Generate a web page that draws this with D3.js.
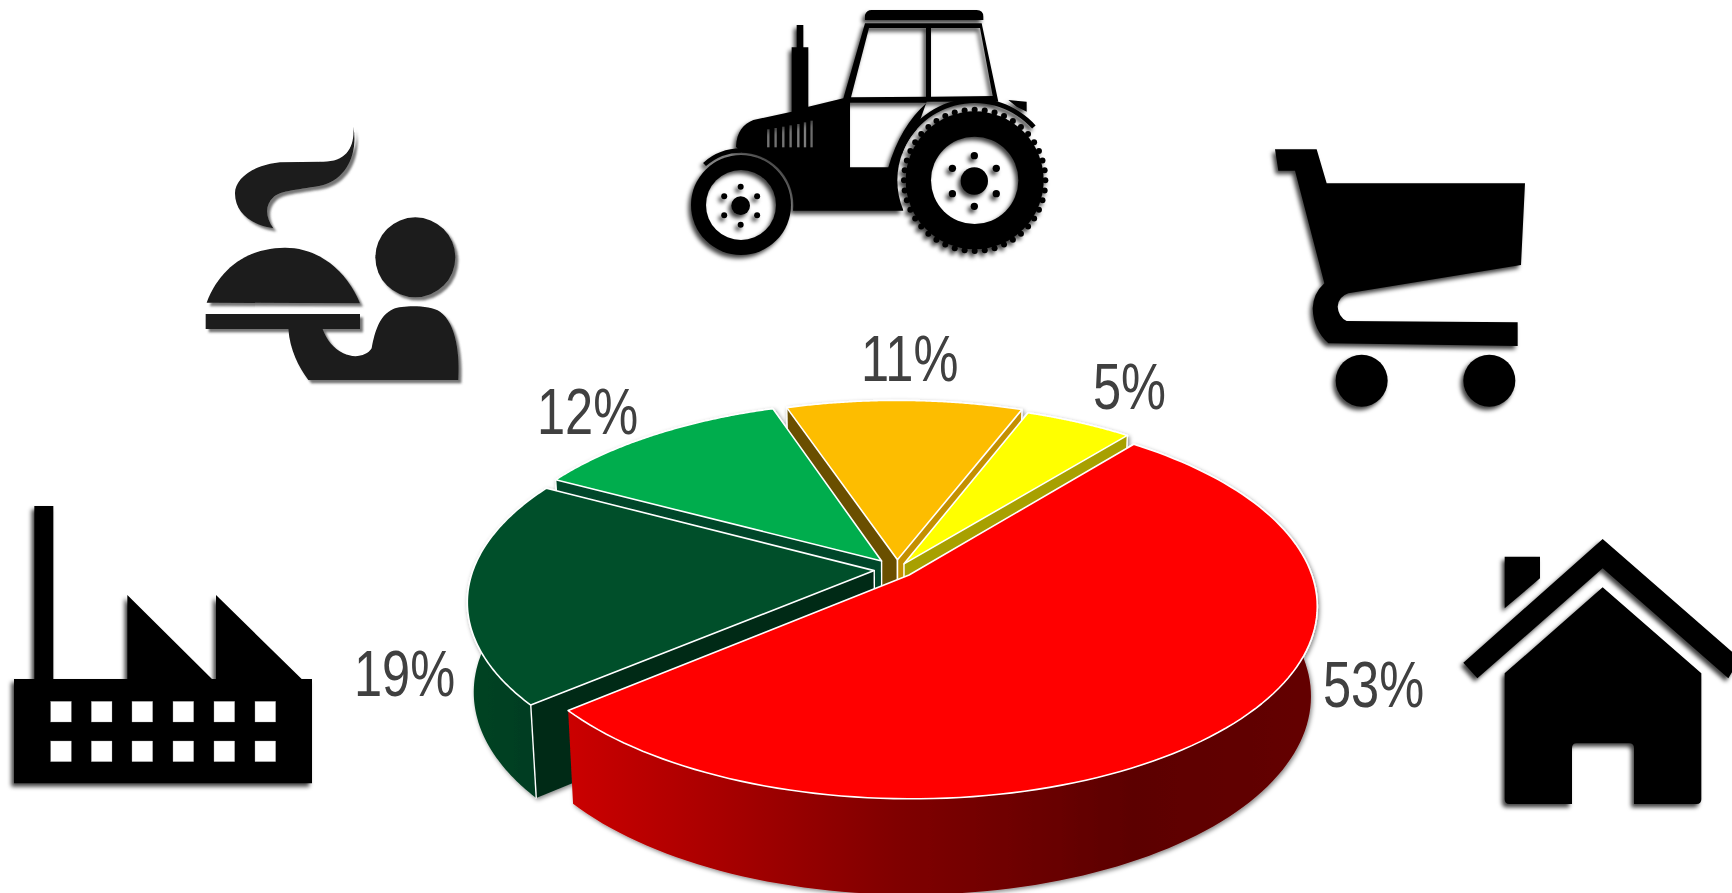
<!DOCTYPE html>
<html>
<head>
<meta charset="utf-8">
<script src="https://cdn.jsdelivr.net/npm/d3@7"></script>
<style>
  html, body { margin: 0; background: #fff; }
  svg { display: block; }
  text { font-family: "Liberation Sans", Arial, sans-serif; }
</style>
</head>
<body>
<script>
// Share of each sector, clockwise from the first cut.
const sectors = ["Households", "Industry", "Food service", "Agriculture", "Retail"];
const shares = [53, 19, 12, 11, 5];

// Slice styling, one entry per sector.
const topColors = ["#ff0000", "#00502b", "#00ad4d", "#fdbd00", "#ffff00"];
const wallColors = ["url(#redWall)", "url(#greenWall)", "#00572a", "#6b4f00", "#a8a000"];
const startFaces = [null, "#002a18", "#00472a", "#6b4f00", null];
const endFaces = [null, null, null, "#c49000", "#a8a000"];
const pull = [0.042, 0.057, 0.06, 0.053, 0.035];
const paintOrder = [3, 4, 2, 1, 0];
const labelAnchors = [[1323, 707], [354, 696], [537, 434], [861, 381], [1093, 409]];

const width = 1732, height = 893;
const svg = d3.select("body").append("svg").attr("width", width).attr("height", height);
const defs = svg.append("defs");

function shadow(id, dx, dy, blur, color, opacity) {
  const f = defs.append("filter").attr("id", id)
    .attr("x", "-15%").attr("y", "-15%").attr("width", "130%").attr("height", "130%");
  f.append("feDropShadow").attr("dx", dx).attr("dy", dy).attr("stdDeviation", blur)
    .attr("flood-color", color).attr("flood-opacity", opacity);
}
// Icon shadows are given in the 3x local grid of the pictograms.
shadow("softLeft", -8, 10, 7, "#000", 0.75);
shadow("hardRight", 9, 10, 3, "#555", 0.8);
shadow("pieHalo", 1.5, 2, 2, "#000", 0.45);

function wallGradient(id, stops) {
  const g = defs.append("linearGradient").attr("id", id)
    .attr("gradientUnits", "userSpaceOnUse")
    .attr("x1", 470).attr("x2", 1320).attr("y1", 0).attr("y2", 0);
  stops.forEach(([o, c]) => g.append("stop").attr("offset", o).attr("stop-color", c));
}
wallGradient("redWall", [[0.11, "#cc0000"], [0.5, "#800000"], [0.78, "#5c0000"], [1, "#640000"]]);
wallGradient("greenWall", [[0, "#004424"], [0.08, "#003c20"], [1, "#003c20"]]);

// Perspective projection of the pie's unit disc onto the page.
const origin = { x: 897, y: 569.5 }, spanX = 401, spanY = 187, tilt = 0.156;
const depth = { shrinkX: 0.985, shrinkY: 1.03, drop: 90 };
const project = (u, v) => {
  const w = 1 + tilt * v;
  return [origin.x + spanX * u / w, origin.y - spanY * v / w];
};
const sink = ([x, y]) => [
  origin.x + (x - origin.x) * depth.shrinkX,
  605 + (y - 605) * depth.shrinkY + depth.drop
];
const polar = (a, r, c) => [c[0] + r * Math.sin(a), c[1] + r * Math.cos(a)];
const line = d3.line();

const firstCut = 39;
const slices = d3.pie().sort(null)
  .startAngle(firstCut * Math.PI / 180)
  .endAngle((firstCut + 360) * Math.PI / 180)(shares);

const pieLayer = svg.append("g").attr("filter", "url(#pieHalo)");

paintOrder.forEach(i => {
  const s = slices[i];
  const mid = (s.startAngle + s.endAngle) / 2;
  const hub = [pull[i] * Math.sin(mid), pull[i] * Math.cos(mid)];
  const steps = d3.range(0, 121).map(k => s.startAngle + (s.endAngle - s.startAngle) * k / 120);
  const rim = steps.map(a => project(...polar(a, 1, hub)));
  const apex = project(...hub);
  const g = pieLayer.append("g").attr("class", "slice").attr("data-sector", sectors[i]);

  const wall = rim.concat(rim.map(sink).reverse());
  g.append("path").attr("d", line(wall) + "Z").attr("fill", wallColors[i]);

  const face = (edge, color) => {
    if (!color) return;
    const quad = [apex, edge, sink(edge), sink(apex)];
    g.append("path").attr("d", line(quad) + "Z").attr("fill", color);
  };
  face(rim[0], startFaces[i]);
  face(rim[rim.length - 1], endFaces[i]);

  const corner = (edge, color) => {
    if (!color) return;
    g.append("path").attr("d", line([edge, sink(edge)])).attr("stroke", "#fff")
      .attr("stroke-width", 1.4).attr("fill", "none");
    g.append("path").attr("d", line([apex, sink(apex)])).attr("stroke", "#fff")
      .attr("stroke-width", 1.4).attr("fill", "none");
  };
  corner(rim[0], startFaces[i]);
  corner(rim[rim.length - 1], endFaces[i]);

  g.append("path").attr("d", line([apex].concat(rim)) + "Z")
    .attr("fill", topColors[i]).attr("stroke", "#fff")
    .attr("stroke-width", 1.6).attr("stroke-linejoin", "round");
});

// Percentage labels, set condensed.
svg.append("g").selectAll("text").data(shares).join("text")
  .attr("transform", (d, i) => `translate(${labelAnchors[i][0]},${labelAnchors[i][1]}) scale(0.79,1)`)
  .attr("font-size", 64).attr("fill", "#404040")
  .text(d => `${d}%`);

// Pictograms, drawn in a 3x local grid and placed on the page.
function icon(x, y, filter, color) {
  return svg.append("g").attr("transform", `translate(${x},${y}) scale(${1 / 3})`)
    .attr("filter", filter).attr("fill", color);
}

// House
icon(1440, 520, "url(#softLeft)", "#000").append("path").attr("d",
  "M488,57 L900,416 L865,475 L488,145 L112,475 L70,428 Z " +
  "M194,110 H300 V175 L194,265 Z " +
  "M488,202 L784,460 V838 Q784,852 770,852 H582 V685 Q582,670 567,670 H410 Q396,670 396,685 V852 H208 Q194,852 194,838 V460 Z");

// Factory
const factory = icon(0, 490, "url(#softLeft)", "#000");
const windowCols = [152, 274, 396, 519, 642, 765], windowRows = [634, 753];
factory.append("path").attr("d",
  "M103,48 H160 V567 H382 V315 L636,567 H648 V315 L905,567 H936 V880 H42 V567 H103 Z");
windowRows.forEach(r => windowCols.forEach(c => {
  factory.append("rect").attr("x", c).attr("y", r).attr("width", 62).attr("height", 62)
    .attr("fill", "#fff").attr("stroke", "#999").attr("stroke-width", 1);
}));

// Shopping cart
const cart = icon(1260, 130, "url(#softLeft)", "#000");
cart.append("path").attr("d",
  "M45,58 H170 L200,160 H795 L783,405 L265,490 Q235,500 233,530 Q235,560 260,573 L773,577 V648 L205,640 Q160,600 158,535 Q160,490 193,460 L105,122 H55 Z");
[305, 688].forEach(cx => cart.append("circle").attr("cx", cx).attr("cy", 752).attr("r", 78));

// Waiter with a covered dish
const waiter = icon(190, 110, "url(#hardRight)", "#1a1a1a");
waiter.append("path").attr("d",
  "M490,50 C495,110 470,155 400,155 L270,157 C190,165 135,205 135,250 C135,310 185,345 250,355 C225,320 225,285 250,262 C270,240 330,240 400,225 C470,205 505,130 490,50 Z");
waiter.append("circle").attr("cx", 676).attr("cy", 442).attr("r", 120);
waiter.append("path").attr("d", "M50,578 C90,470 180,413 285,413 C385,413 470,480 510,580 Z");
waiter.append("rect").attr("x", 47).attr("y", 612).attr("width", 463).attr("height", 45);
waiter.append("path").attr("d",
  "M295,657 C300,720 325,770 355,810 H805 C810,740 800,640 750,605 C720,585 640,585 610,597 C570,615 555,660 545,715 C530,740 490,745 460,730 C430,715 410,690 398,657 Z");

// Tractor: a silhouette mask with see-through windows and hubs.
const tractorMask = defs.append("mask").attr("id", "tractorCut").attr("maskUnits", "userSpaceOnUse")
  .attr("x", -50).attr("y", -50).attr("width", 1400).attr("height", 950);
const maskWhite = "#fff", maskBlack = "#000";
const rearWheel = { x: 914, y: 541 }, frontWheel = { x: 213, y: 615 };
const ring = d3.arc();
const deg = d => d * Math.PI / 180;

tractorMask.append("path").attr("fill", maskWhite).attr("d",
  "M198,440 C200,395 220,372 250,360 L365,335 V142 H380 V75 H400 V142 H415 V320 L520,295 L585,70 H935 L985,305 L770,305 L700,500 V632 H370 Z " +
  "M585,60 V45 Q590,30 605,30 H920 Q940,30 940,50 V60 Z " +
  "M1015,300 L1070,305 V335 L1040,320 Z");
tractorMask.append("path").attr("fill", maskBlack).attr("d",
  "M597,84 H768 V290 L543,292 Z M783,84 H930 L968,288 L783,290 Z " +
  "M540,308 H770 Q690,380 655,502 H540 Z");
[[295, 388], [317, 384], [340, 380], [362, 376], [385, 372], [405, 367], [425, 362]].forEach(([x, top]) => {
  tractorMask.append("rect").attr("fill", maskBlack).attr("x", x - 3.5).attr("y", top)
    .attr("width", 7).attr("height", 442 - top);
});

tractorMask.append("circle").attr("cx", rearWheel.x).attr("cy", rearWheel.y).attr("r", 232).attr("fill", maskBlack);
tractorMask.append("path").attr("fill", maskWhite)
  .attr("transform", `translate(${rearWheel.x},${rearWheel.y})`)
  .attr("d", ring({ innerRadius: 232, outerRadius: 246, startAngle: deg(-70), endAngle: deg(48) }));
tractorMask.append("circle").attr("cx", rearWheel.x).attr("cy", rearWheel.y).attr("r", 207).attr("fill", maskWhite);
d3.range(44).forEach(k => {
  const a = 2 * Math.PI * k / 44;
  tractorMask.append("circle").attr("fill", maskWhite).attr("r", 9)
    .attr("cx", rearWheel.x + 212 * Math.sin(a)).attr("cy", rearWheel.y + 212 * Math.cos(a));
});
tractorMask.append("circle").attr("cx", rearWheel.x).attr("cy", rearWheel.y).attr("r", 131).attr("fill", maskBlack);

tractorMask.append("circle").attr("cx", frontWheel.x).attr("cy", frontWheel.y).attr("r", 157).attr("fill", maskBlack);
tractorMask.append("path").attr("fill", maskWhite)
  .attr("transform", `translate(${frontWheel.x},${frontWheel.y})`)
  .attr("d", ring({ innerRadius: 157, outerRadius: 170, startAngle: deg(-42), endAngle: deg(0) }));
tractorMask.append("circle").attr("cx", frontWheel.x).attr("cy", frontWheel.y).attr("r", 150).attr("fill", maskWhite);
tractorMask.append("circle").attr("cx", frontWheel.x).attr("cy", frontWheel.y).attr("r", 105).attr("fill", maskBlack);

const tractor = icon(670, 0, "url(#softLeft)", "#000");
tractor.append("rect").attr("x", -50).attr("y", -50).attr("width", 1400).attr("height", 950)
  .attr("mask", "url(#tractorCut)");

function hubParts(center, centerRadius, boltDistance, boltRadius) {
  tractor.append("circle").attr("cx", center.x).attr("cy", center.y).attr("r", centerRadius);
  d3.range(6).forEach(k => {
    const a = Math.PI / 3 * k;
    tractor.append("circle").attr("r", boltRadius)
      .attr("cx", center.x + boltDistance * Math.sin(a))
      .attr("cy", center.y - boltDistance * Math.cos(a));
  });
}
hubParts({ x: 913, y: 543 }, 41, 76, 11);
hubParts({ x: 212, y: 617 }, 28, 57, 9);
</script>
</body>
</html>
